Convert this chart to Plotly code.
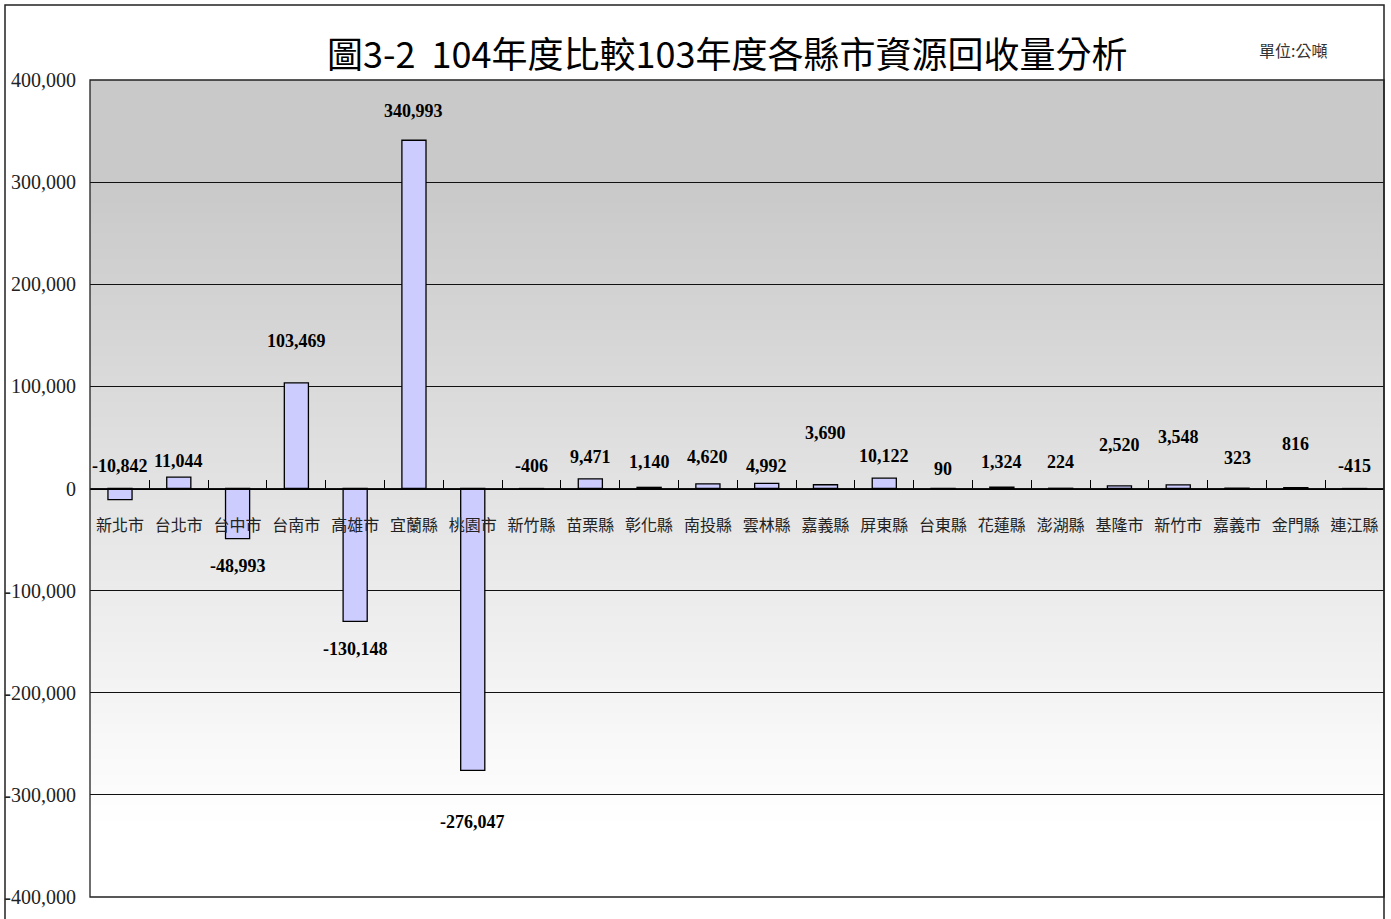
import plotly.graph_objects as go

categories = ["新北市", "台北市", "台中市", "台南市", "高雄市", "宜蘭縣", "桃園市", "新竹縣",
              "苗栗縣", "彰化縣", "南投縣", "雲林縣", "嘉義縣", "屏東縣", "台東縣", "花蓮縣",
              "澎湖縣", "基隆市", "新竹市", "嘉義市", "金門縣", "連江縣"]
values = [-10842, 11044, -48993, 103469, -130148, 340993, -276047, -406,
          9471, 1140, 4620, 4992, 3690, 10122, 90, 1324,
          224, 2520, 3548, 323, 816, -415]
y_tickvals = [400000, 300000, 200000, 100000, 0, -100000, -200000, -300000, -400000]
y_ticktext = ["400,000", "300,000", "200,000", "100,000", "0",
              "-100,000", "-200,000", "-300,000", "-400,000"]

# label offsets (pixels, relative to bar end) - styling only
label_shift = [34, 16, -27, 42, -28, 29, -52, 23,
               22, 25, 27, 17, 52, 22, 19, 25,
               26, 41, 48, 30, 44, 23]

W, H = 1391, 919
ML, MR, MT, MB = 90, 7, 80, 22
plot_w = W - ML - MR
plot_h = H - MT - MB

fig = go.Figure()
fig.add_trace(go.Bar(
    x=categories, y=values, width=0.41,
    marker=dict(color="#ccccff", line=dict(color="black", width=1.3)),
    hoverinfo="x+y",
))

shapes = []
# gradient background (overlapping bands to avoid seams)
n = 160
ymin, ymax = -400000, 400000
step = (ymax - ymin) / n
for i in range(n):
    y0 = ymin + i * step
    y1 = min(ymax, y0 + step * 2)
    mid = y0 + step / 2
    if mid >= 300000:
        g = 201
    else:
        g = 201 + (300000 - mid) / 630000 * 54
    g = int(round(min(255, g)))
    shapes.append(dict(type="rect", xref="paper", yref="y", x0=0, x1=1, y0=y0, y1=y1,
                       fillcolor=f"rgb({g},{g},{g})", line=dict(width=0), layer="below"))

# outer chart border
shapes.append(dict(type="rect", xref="paper", yref="paper",
                   x0=(5 - ML) / plot_w, x1=1.0,
                   y0=(H - MB - 930) / plot_h, y1=(H - MB - 5) / plot_h,
                   line=dict(color="#222", width=1.5), fillcolor="rgba(0,0,0,0)", layer="above"))
# plot area frame
shapes.append(dict(type="rect", xref="paper", yref="paper", x0=0, x1=1, y0=0, y1=1,
                   line=dict(color="#222", width=1.3), fillcolor="rgba(0,0,0,0)", layer="above"))

annotations = []
for c, v, s in zip(categories, values, label_shift):
    annotations.append(dict(x=c, y=v, text=f"<b>{v:,}</b>", showarrow=False, yshift=s,
                            xanchor="center", yanchor="middle",
                            font=dict(family="Liberation Serif", size=18, color="black")))

annotations.append(dict(text="圖3-2  104年度比較103年度各縣市資源回收量分析",
                        xref="paper", yref="paper", x=(727 - ML) / plot_w,
                        y=(H - MB - 52) / plot_h, showarrow=False,
                        xanchor="center", yanchor="middle",
                        font=dict(family="Noto Sans CJK TC", size=36, color="black")))
annotations.append(dict(text="單位:公噸", xref="paper", yref="paper",
                        x=(1293 - ML) / plot_w, y=(H - MB - 50) / plot_h,
                        showarrow=False, xanchor="center", yanchor="middle",
                        font=dict(family="Noto Sans CJK TC", size=16, color="#333")))

fig.update_layout(
    width=W, height=H,
    margin=dict(l=ML, r=MR, t=MT, b=MB, autoexpand=False),
    paper_bgcolor="white", plot_bgcolor="white",
    showlegend=False,
    shapes=shapes, annotations=annotations,
    xaxis=dict(
        type="category", anchor="free", position=0.5, automargin=False,
        showline=True, linecolor="black", linewidth=1.3,
        ticks="inside", tickson="boundaries", ticklen=8, tickcolor="black", tickwidth=1.2,
        ticklabelstandoff=22, tickangle=0,
        tickfont=dict(family="Noto Sans CJK TC", size=16, color="#222"),
        showgrid=False, zeroline=False,
    ),
    yaxis=dict(
        range=[-400000, 400000], tickvals=y_tickvals, ticktext=y_ticktext,
        automargin=False,
        showgrid=True, gridcolor="#111", gridwidth=1,
        zeroline=False, showline=False, ticks="",
        ticklabelstandoff=13,
        tickfont=dict(family="Liberation Serif", size=20, color="#222"),
    ),
)

fig.write_html("out.html", config={"displayModeBar": False},
               post_script="document.body.style.margin='0';document.body.style.overflow='hidden';")
